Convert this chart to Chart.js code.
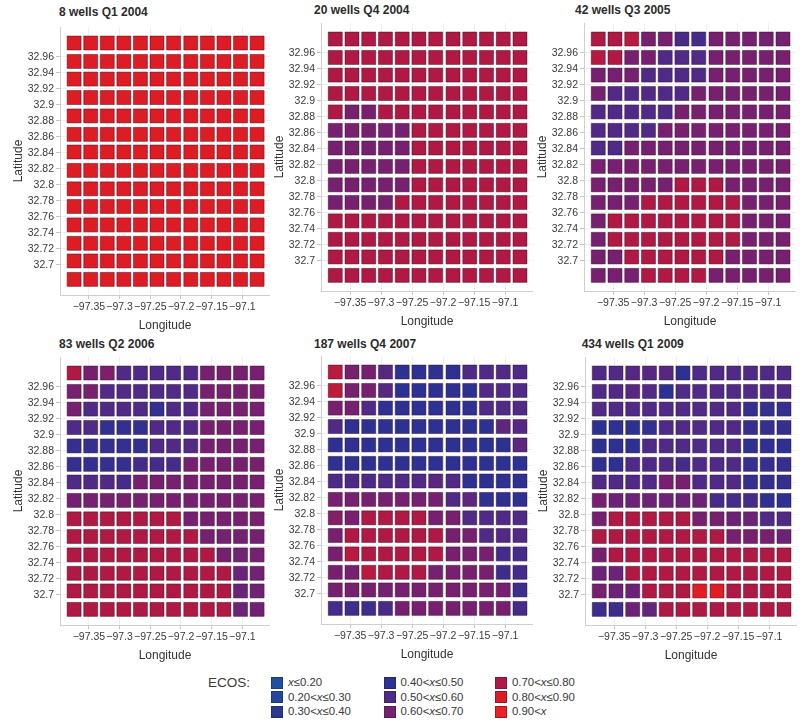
<!DOCTYPE html>
<html>
<head>
<meta charset="utf-8">
<title>ECOS maps</title>
<script src="https://cdn.jsdelivr.net/npm/chart.js@4"></script>
<style>
  html, body { margin: 0; padding: 0; background: #fff; }
  body { position: relative; width: 800px; height: 727px; overflow: hidden; font-family: "Liberation Sans", Arial, sans-serif; }
  canvas { position: absolute; }
  .panel-title { position: absolute; font-size: 12px; font-weight: bold; color: #2b2b2b; line-height: 14px; white-space: nowrap; }
  .legend-label { position: absolute; font-size: 11.4px; color: #3a3a3a; line-height: 14px; white-space: nowrap; }
  .legend-head { position: absolute; font-size: 13.5px; color: #3a3a3a; line-height: 16px; }
  .swatch { position: absolute; width: 10px; height: 10px; border: 0.5px solid rgba(40,30,60,0.45); }
</style>
</head>
<body>
<script>
const lons = [-97.374, -97.347, -97.320, -97.293, -97.266, -97.239, -97.212, -97.184, -97.157, -97.130, -97.103, -97.076];
const lats = [32.977, 32.954, 32.932, 32.909, 32.886, 32.863, 32.841, 32.818, 32.795, 32.773, 32.750, 32.727, 32.705, 32.682];
const lonTicks = [-97.35, -97.3, -97.25, -97.2, -97.15, -97.1];
const lonTickLabels = ['−97.35', '−97.3', '−97.25', '−97.2', '−97.15', '−97.1'];
const latTicks = [32.96, 32.94, 32.92, 32.9, 32.88, 32.86, 32.84, 32.82, 32.8, 32.78, 32.76, 32.74, 32.72, 32.7];
const latTickLabels = ['32.96', '32.94', '32.92', '32.9', '32.88', '32.86', '32.84', '32.82', '32.8', '32.78', '32.76', '32.74', '32.72', '32.7'];

// ECOS per cell, top row first, left column first
const q1_2004 = [
  [.85,.85,.85,.85,.85,.85,.85,.85,.85,.85,.85,.85],
  [.85,.85,.85,.85,.85,.85,.85,.85,.85,.85,.85,.85],
  [.85,.85,.85,.85,.85,.85,.85,.85,.85,.85,.85,.85],
  [.85,.85,.85,.85,.85,.85,.85,.85,.85,.85,.85,.85],
  [.85,.85,.85,.85,.85,.85,.85,.85,.85,.85,.85,.85],
  [.85,.85,.85,.85,.85,.85,.85,.85,.85,.85,.85,.85],
  [.85,.85,.85,.85,.85,.85,.85,.85,.85,.85,.85,.85],
  [.85,.85,.85,.85,.85,.85,.85,.85,.85,.85,.85,.85],
  [.85,.85,.85,.85,.85,.85,.85,.85,.85,.85,.85,.85],
  [.85,.85,.85,.85,.85,.85,.85,.85,.85,.85,.85,.85],
  [.85,.85,.85,.85,.85,.85,.85,.85,.85,.85,.85,.85],
  [.85,.85,.85,.85,.85,.85,.85,.85,.85,.85,.85,.85],
  [.85,.85,.85,.85,.85,.85,.85,.85,.85,.85,.85,.85],
  [.85,.85,.85,.85,.85,.85,.85,.85,.85,.85,.85,.85]
];
const q4_2004 = [
  [.75,.75,.75,.75,.75,.75,.75,.75,.75,.75,.75,.75],
  [.75,.75,.75,.75,.75,.75,.75,.75,.75,.75,.75,.75],
  [.75,.75,.75,.75,.75,.75,.75,.75,.75,.75,.75,.75],
  [.75,.75,.75,.75,.75,.75,.75,.75,.75,.75,.75,.75],
  [.75,.65,.65,.75,.75,.75,.75,.75,.75,.75,.75,.75],
  [.65,.65,.65,.65,.65,.75,.75,.75,.75,.75,.75,.75],
  [.65,.65,.65,.65,.65,.75,.75,.75,.75,.75,.75,.75],
  [.65,.65,.65,.65,.65,.75,.75,.75,.75,.75,.75,.75],
  [.65,.65,.65,.65,.65,.75,.75,.75,.75,.75,.75,.75],
  [.65,.65,.65,.65,.75,.75,.75,.75,.75,.75,.75,.75],
  [.75,.75,.75,.75,.75,.75,.75,.75,.75,.75,.75,.75],
  [.75,.75,.75,.75,.75,.75,.75,.75,.75,.75,.75,.75],
  [.75,.75,.75,.75,.75,.75,.75,.75,.75,.75,.75,.75],
  [.75,.75,.75,.75,.75,.75,.75,.75,.75,.75,.75,.75]
];
const q3_2005 = [
  [.75,.75,.77,.65,.65,.53,.52,.65,.65,.64,.64,.64],
  [.76,.75,.65,.65,.55,.55,.55,.65,.65,.65,.65,.65],
  [.65,.65,.65,.55,.55,.55,.55,.65,.65,.65,.65,.65],
  [.65,.55,.55,.55,.55,.55,.65,.65,.65,.65,.65,.65],
  [.55,.55,.55,.55,.55,.65,.65,.65,.65,.65,.65,.65],
  [.55,.55,.55,.55,.65,.65,.65,.65,.65,.65,.65,.65],
  [.55,.55,.65,.65,.65,.65,.65,.65,.65,.65,.65,.65],
  [.65,.65,.65,.65,.65,.65,.65,.65,.65,.65,.65,.65],
  [.65,.65,.65,.65,.65,.75,.75,.75,.65,.65,.65,.65],
  [.65,.65,.65,.75,.75,.75,.75,.75,.75,.65,.65,.65],
  [.65,.75,.75,.75,.75,.75,.75,.75,.75,.65,.65,.65],
  [.65,.75,.75,.75,.75,.75,.75,.75,.75,.65,.65,.65],
  [.65,.65,.75,.75,.75,.75,.75,.75,.65,.65,.65,.65],
  [.65,.65,.65,.75,.75,.75,.75,.65,.65,.65,.65,.65]
];
const q2_2006 = [
  [.75,.65,.66,.55,.55,.55,.55,.55,.65,.65,.65,.65],
  [.65,.65,.55,.55,.55,.55,.55,.55,.65,.65,.65,.65],
  [.65,.55,.55,.55,.55,.47,.55,.55,.65,.65,.65,.65],
  [.55,.55,.47,.47,.47,.55,.55,.55,.65,.65,.65,.65],
  [.47,.47,.47,.47,.47,.55,.55,.55,.65,.65,.65,.65],
  [.47,.47,.47,.47,.52,.52,.52,.65,.65,.65,.65,.65],
  [.55,.55,.55,.52,.65,.65,.65,.65,.65,.65,.65,.65],
  [.64,.64,.64,.65,.65,.65,.65,.65,.65,.65,.65,.65],
  [.75,.75,.75,.75,.75,.75,.75,.65,.65,.65,.65,.65],
  [.75,.75,.75,.75,.75,.75,.75,.75,.64,.64,.64,.64],
  [.75,.75,.75,.75,.75,.75,.75,.75,.75,.65,.63,.64],
  [.75,.75,.75,.75,.75,.75,.75,.75,.75,.75,.61,.63],
  [.75,.75,.75,.75,.75,.75,.75,.75,.75,.75,.61,.63],
  [.75,.75,.75,.75,.75,.75,.75,.75,.75,.75,.62,.63]
];
const q4_2007 = [
  [.77,.65,.65,.57,.45,.45,.45,.45,.55,.55,.55,.55],
  [.78,.65,.65,.57,.45,.45,.45,.45,.45,.55,.55,.55],
  [.65,.65,.55,.45,.45,.45,.45,.45,.45,.55,.55,.55],
  [.55,.45,.45,.45,.45,.45,.45,.45,.45,.45,.59,.56],
  [.45,.45,.45,.45,.45,.45,.45,.45,.45,.45,.45,.58],
  [.45,.45,.45,.45,.45,.45,.45,.45,.45,.45,.45,.45],
  [.54,.54,.54,.54,.55,.55,.58,.55,.45,.45,.45,.45],
  [.65,.65,.65,.65,.65,.65,.65,.55,.58,.45,.45,.45],
  [.67,.65,.75,.75,.75,.75,.65,.65,.55,.55,.55,.55],
  [.65,.75,.75,.75,.75,.75,.75,.65,.65,.55,.55,.55],
  [.65,.77,.75,.75,.75,.75,.75,.65,.65,.65,.52,.52],
  [.65,.65,.77,.75,.75,.75,.65,.65,.65,.65,.50,.52],
  [.65,.65,.65,.65,.65,.65,.65,.65,.65,.65,.65,.50],
  [.52,.50,.50,.53,.65,.65,.65,.65,.65,.65,.65,.52]
];
const q1_2009 = [
  [.55,.55,.57,.57,.57,.45,.55,.55,.55,.55,.55,.55],
  [.55,.55,.57,.55,.45,.55,.55,.55,.55,.55,.55,.55],
  [.55,.55,.55,.55,.55,.55,.55,.55,.55,.47,.47,.47],
  [.45,.45,.45,.47,.55,.55,.55,.55,.55,.47,.47,.47],
  [.45,.45,.45,.55,.55,.55,.55,.55,.55,.45,.45,.45],
  [.45,.45,.55,.55,.55,.52,.55,.55,.55,.47,.47,.47],
  [.55,.55,.55,.55,.65,.65,.55,.55,.55,.47,.47,.47],
  [.65,.62,.62,.62,.62,.62,.62,.52,.52,.52,.45,.45],
  [.65,.75,.75,.75,.75,.75,.65,.65,.62,.62,.55,.55],
  [.75,.75,.75,.75,.75,.75,.75,.75,.65,.65,.65,.62],
  [.65,.75,.75,.75,.75,.75,.75,.75,.75,.75,.75,.75],
  [.62,.62,.75,.75,.75,.75,.75,.75,.75,.75,.75,.75],
  [.65,.62,.62,.75,.75,.75,.87,.87,.75,.75,.75,.75],
  [.50,.50,.62,.60,.75,.75,.75,.75,.75,.75,.75,.75]
];

const panelTitles = ['8 wells Q1 2004', '20 wells Q4 2004', '42 wells Q3 2005', '83 wells Q2 2006', '187 wells Q4 2007', '434 wells Q1 2009'];
const panelGrids = [q1_2004, q4_2004, q3_2005, q2_2006, q4_2007, q1_2009];

const ecosStops = [0.15, 0.25, 0.35, 0.45, 0.55, 0.65, 0.75, 0.85, 0.95];
const ecosColors = ['#1f4fa0', '#23479b', '#2a3a90', '#2d3192', '#4f2a86', '#782070', '#b01943', '#de1c24', '#ee2024'];
const legendLabels = ['x≤0.20', '0.20<x≤0.30', '0.30<x≤0.40', '0.40<x≤0.50', '0.50<x≤0.60', '0.60<x≤0.70', '0.70<x≤0.80', '0.80<x≤0.90', '0.90<x'];

// where each panel's plot area sits on the page: [left, top, width, titleX, titleY]
const panelBoxes = [
  [59.5, 27, 210, 59, 5],
  [320.7, 23, 212, 314, 3],
  [584, 23, 212, 575, 3],
  [59.5, 357, 210, 59, 337],
  [320.7, 356, 212, 314, 337],
  [585, 357, 212, 581.7, 337]
];
const PLOT_H = 268;
const Y_AXIS_W = 50;
const X_AXIS_H = 38;

function hexToRgb(hex) {
  return [1, 3, 5].map(i => parseInt(hex.substr(i, 2), 16));
}

function ecosColor(v) {
  let i = 0;
  while (i < ecosStops.length - 2 && v > ecosStops[i + 1]) i++;
  const t = Math.min(1, Math.max(0, (v - ecosStops[i]) / (ecosStops[i + 1] - ecosStops[i])));
  const a = hexToRgb(ecosColors[i]);
  const b = hexToRgb(ecosColors[i + 1]);
  return `rgb(${a.map((c, k) => Math.round(c + (b[k] - c) * t)).join(',')})`;
}

function drawPanel(grid, title, box) {
  const [left, top, width, titleX, titleY] = box;

  const head = document.createElement('div');
  head.className = 'panel-title';
  head.style.left = titleX + 'px';
  head.style.top = titleY + 'px';
  head.textContent = title;
  document.body.appendChild(head);

  const canvas = document.createElement('canvas');
  canvas.width = width + Y_AXIS_W;
  canvas.height = PLOT_H + X_AXIS_H;
  canvas.style.left = (left - Y_AXIS_W) + 'px';
  canvas.style.top = top + 'px';
  document.body.appendChild(canvas);

  const points = [];
  const colors = [];
  grid.forEach((row, r) => {
    row.forEach((v, c) => {
      points.push({ x: lons[c], y: lats[r] });
      colors.push(ecosColor(v));
    });
  });

  new Chart(canvas.getContext('2d'), {
    type: 'scatter',
    data: {
      datasets: [{
        data: points,
        pointStyle: 'rect',
        pointRadius: 9.9,
        pointBackgroundColor: colors,
        pointBorderColor: 'rgba(45,10,35,0.45)',
        pointBorderWidth: 1
      }]
    },
    options: {
      responsive: false,
      animation: false,
      layout: { padding: 0, autoPadding: false },
      plugins: { legend: { display: false }, tooltip: { enabled: false } },
      scales: {
        x: {
          type: 'linear',
          min: -97.397,
          max: -97.055,
          afterBuildTicks: scale => { scale.ticks = lonTicks.map(v => ({ value: v })); },
          afterFit: scale => { scale.height = X_AXIS_H; },
          ticks: {
            autoSkip: false,
            maxRotation: 0,
            padding: 2,
            color: '#3a3a3a',
            font: { family: '"Liberation Sans"', size: 10.5 },
            callback: (v, i) => lonTickLabels[i]
          },
          grid: { color: '#efeff2', tickColor: '#c4c4c4', tickLength: 4 },
          border: { color: '#cfcfcf' },
          title: {
            display: true,
            text: 'Longitude',
            color: '#333',
            font: { family: '"Liberation Sans"', size: 12 },
            padding: { top: 2, bottom: 0 }
          }
        },
        y: {
          type: 'linear',
          min: 32.6625,
          max: 32.997,
          afterBuildTicks: scale => { scale.ticks = latTicks.map(v => ({ value: v })); },
          afterFit: scale => {
            scale.width = Y_AXIS_W;
            // the top tick label must not push the plot area down
            scale.paddingTop = 0;
            scale.paddingBottom = 0;
          },
          ticks: {
            autoSkip: false,
            padding: 2,
            color: '#3a3a3a',
            font: { family: '"Liberation Sans"', size: 10.5 },
            callback: (v, i) => latTickLabels[i]
          },
          grid: { color: '#efeff2', tickColor: '#c4c4c4', tickLength: 4 },
          border: { color: '#cfcfcf' },
          title: {
            display: true,
            text: 'Latitude',
            color: '#333',
            font: { family: '"Liberation Sans"', size: 12 },
            padding: { top: 1, bottom: 0 }
          }
        }
      }
    }
  });
}

function drawLegend() {
  const head = document.createElement('div');
  head.className = 'legend-head';
  head.style.left = '208px';
  head.style.top = '675px';
  head.textContent = 'ECOS:';
  document.body.appendChild(head);

  const swatchX = [271, 383.5, 495];
  const rowY = [682, 696.5, 711];
  legendLabels.forEach((label, i) => {
    const col = Math.floor(i / 3);
    const y = rowY[i % 3];

    const swatch = document.createElement('div');
    swatch.className = 'swatch';
    swatch.style.left = swatchX[col] + 'px';
    swatch.style.top = (y - 5.5) + 'px';
    swatch.style.background = ecosColors[i];
    document.body.appendChild(swatch);

    const text = document.createElement('div');
    text.className = 'legend-label';
    text.style.left = (swatchX[col] + 17) + 'px';
    text.style.top = (y - 7) + 'px';
    text.innerHTML = label.replace('x', '<i>x</i>').replace('<', '&lt;').replace('&lt;i>', '<i>');
    document.body.appendChild(text);
  });
}

panelGrids.forEach((grid, i) => drawPanel(grid, panelTitles[i], panelBoxes[i]));
drawLegend();
</script>
</body>
</html>
